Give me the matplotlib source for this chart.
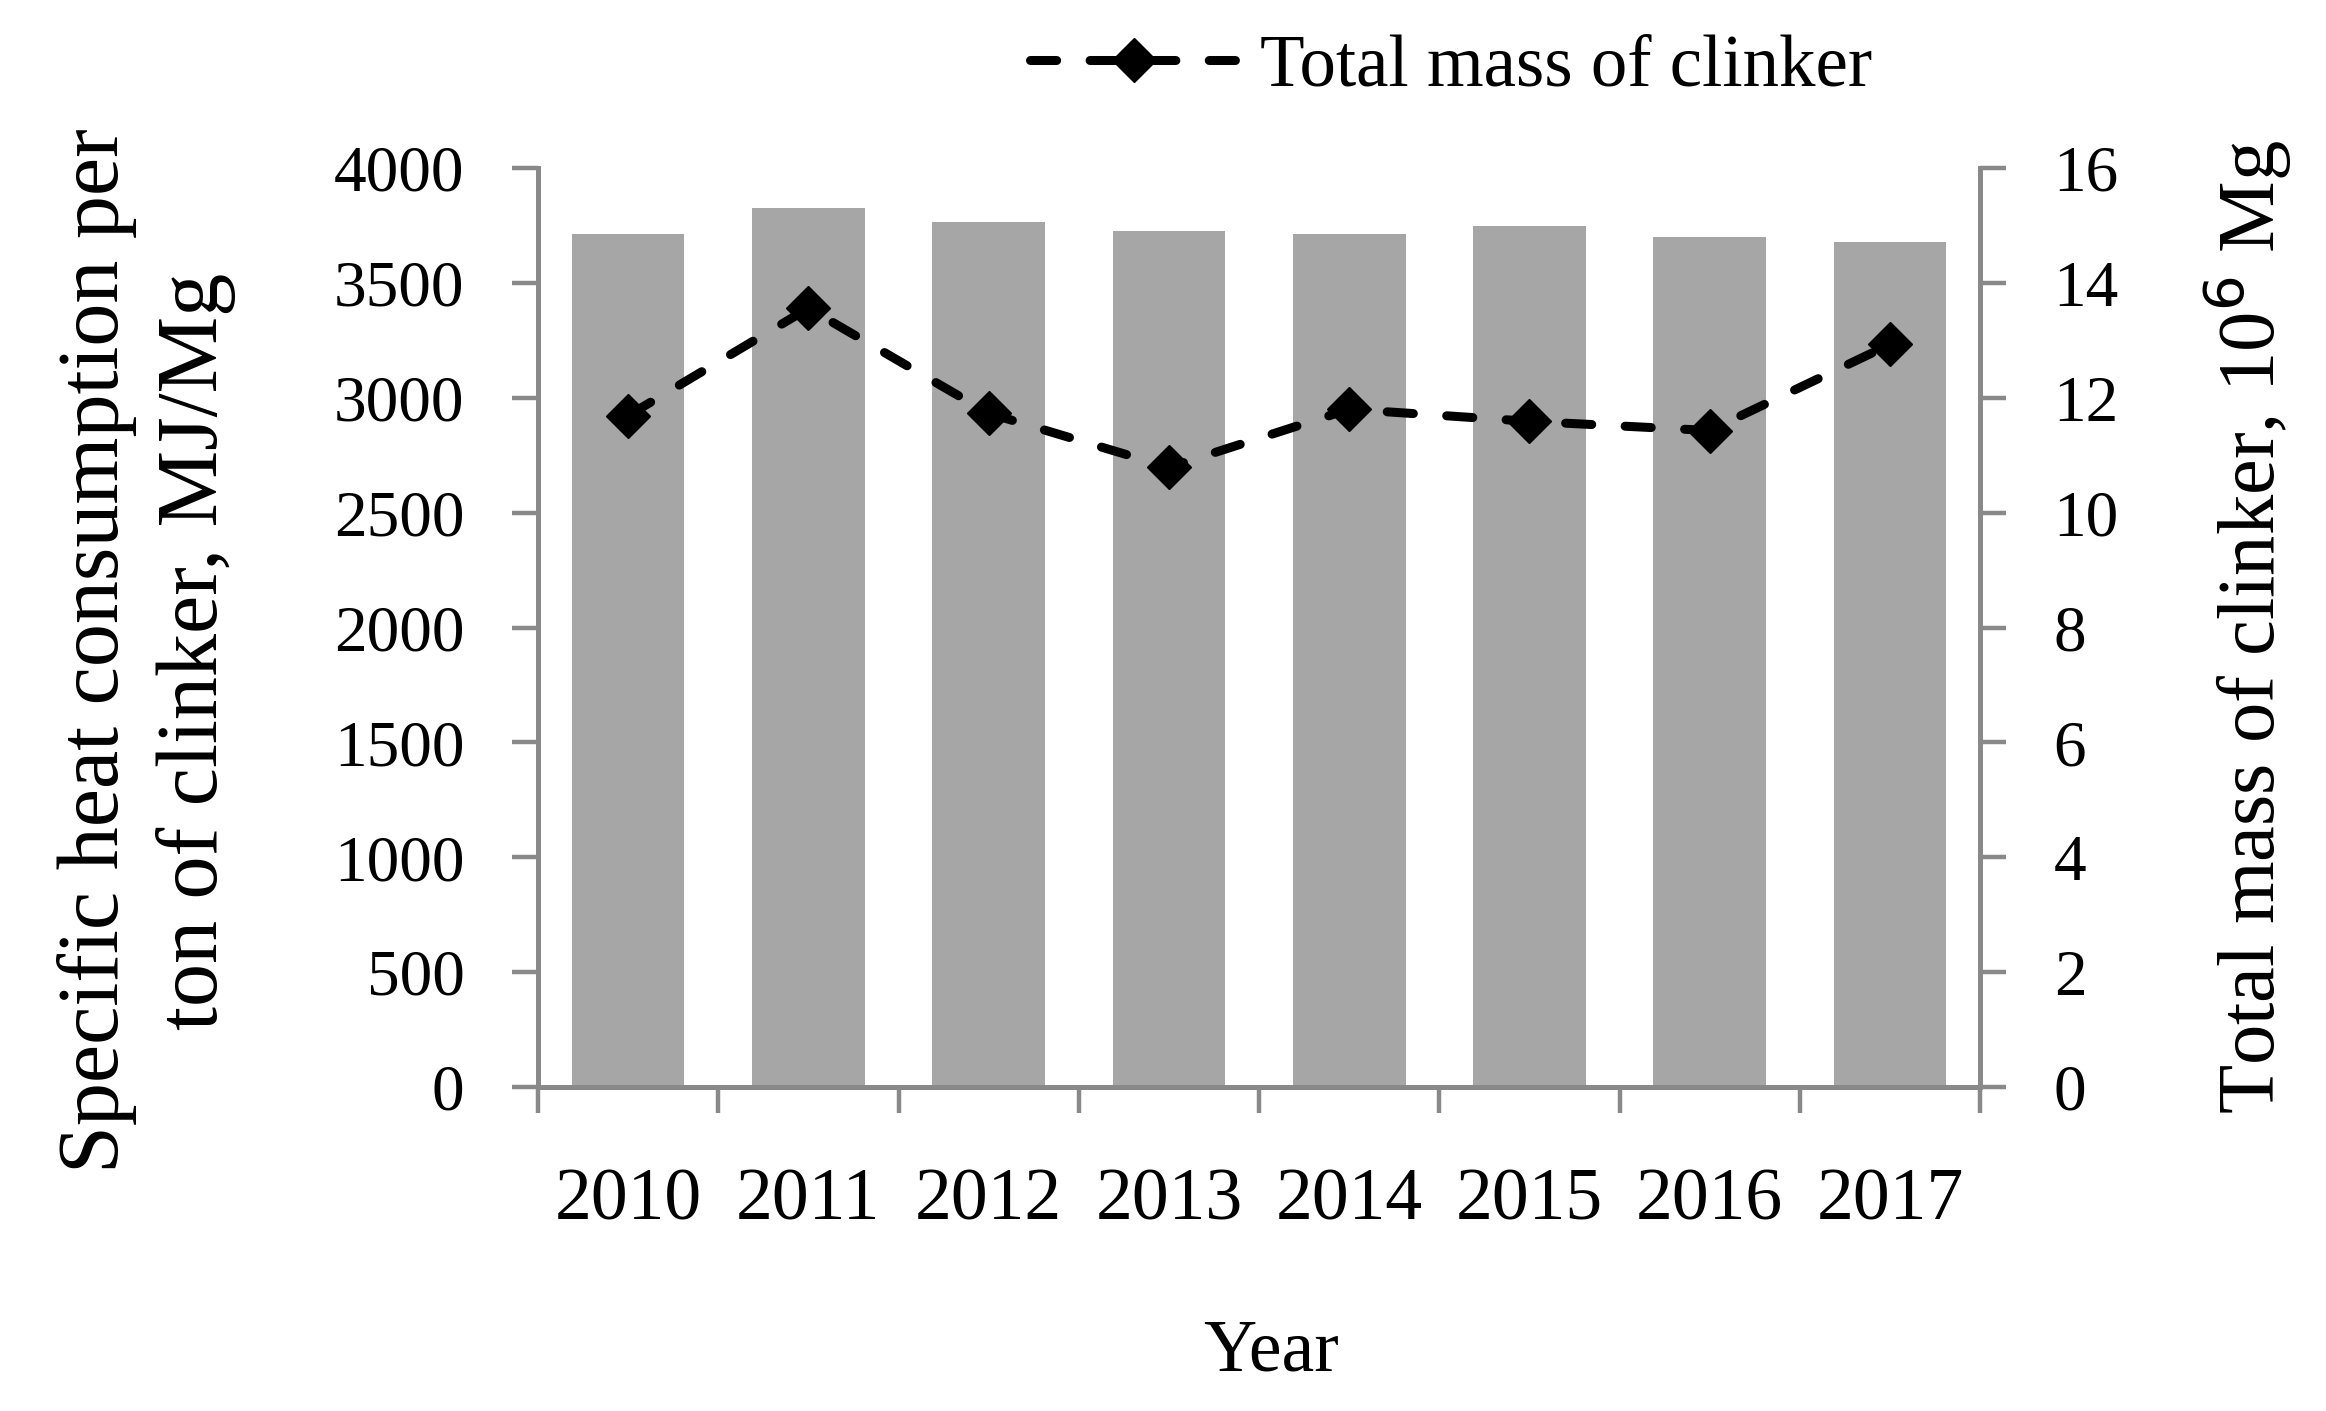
import matplotlib
matplotlib.use('Agg')
import matplotlib.pyplot as plt
import numpy as np

# Data
years = ['2010', '2011', '2012', '2013', '2014', '2015', '2016', '2017']
heat_consumption = [3715, 3828, 3767, 3724, 3711, 3746, 3698, 3680]   # MJ/Mg, bars
clinker_mass = [11.69, 13.56, 11.73, 10.79, 11.80, 11.59, 11.43, 12.93]  # 10^6 Mg, line
left_ticks = [0, 500, 1000, 1500, 2000, 2500, 3000, 3500, 4000]
right_ticks = [0, 2, 4, 6, 8, 10, 12, 14, 16]

plt.rcParams['font.family'] = ['Liberation Serif', 'DejaVu Serif']

axis_gray = '#898989'
bar_gray = '#a6a6a6'

fig = plt.figure(figsize=(23.26, 14.11), dpi=100)
ax = fig.add_axes([0.2313, 0.2296, 0.62, 0.6513])
x = np.arange(len(years))

# Bars: specific heat consumption
ax.bar(x, heat_consumption, width=0.625, color=bar_gray, zorder=2)
ax.set_xlim(-0.5, len(years) - 0.5)
ax.set_ylim(0, 4000)
ax.set_yticks(left_ticks)
ax.set_yticklabels([str(t) for t in left_ticks])

# Category labels in the middle, tick marks on the boundaries
ax.set_xticks(x)
ax.set_xticklabels(years)
ax.set_xticks(np.arange(-0.5, len(years)), minor=True)
ax.tick_params(axis='x', which='major', length=0, pad=58, labelsize=53)
ax.tick_params(axis='x', which='minor', length=19, width=3.2, color=axis_gray)
ax.tick_params(axis='y', length=19, width=3.2, color=axis_gray, pad=34, labelsize=47)

for side in ['left', 'bottom', 'right']:
    ax.spines[side].set_color(axis_gray)
    ax.spines[side].set_linewidth(3.6)
ax.spines['top'].set_visible(False)

# Line on the secondary axis: total mass of clinker
ax2 = ax.twinx()
ax2.plot(x, clinker_mass, color='black', linewidth=6.5, linestyle=(0, (2.9, 3.7)),
         dash_capstyle='round', marker='D', markersize=22,
         label='Total mass of clinker', zorder=3)
ax2.set_ylim(0, 16)
ax2.set_yticks(right_ticks)
ax2.tick_params(axis='y', length=19, width=3.2, color=axis_gray, pad=34, labelsize=47)
for side in ['left', 'bottom', 'right', 'top']:
    ax2.spines[side].set_visible(False)
ax.spines['right'].set_visible(True)

# Axis titles
fig.text(0.063, 0.5386, 'Specific heat consumption per\nton of clinker, MJ/Mg',
         rotation=90, ha='center', va='center', multialignment='center',
         fontsize=62, linespacing=1.3)
fig.text(0.966, 0.5558, 'Total mass of clinker, 10$^{6}$ Mg', rotation=90,
         ha='center', va='center', fontsize=58)
fig.text(0.5465, 0.041, 'Year', ha='center', va='center', fontsize=53)

# Legend on top
fig.legend(loc='center', bbox_to_anchor=(0.6238, 0.952), frameon=False,
           fontsize=52.5, handlelength=2.85, numpoints=1, handletextpad=0.3)

fig.savefig('out.png', dpi=100)
